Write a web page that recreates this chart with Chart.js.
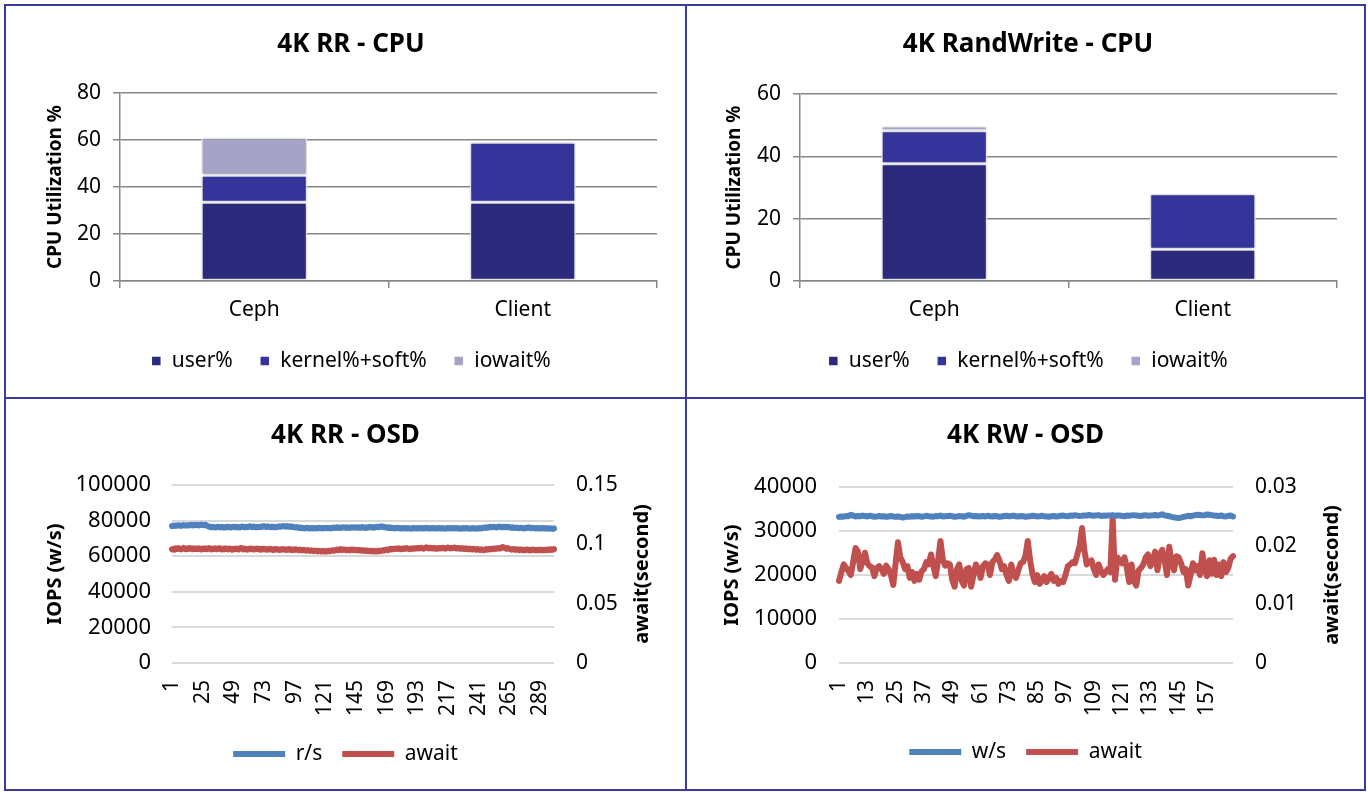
<!DOCTYPE html>
<html lang="en">
<head>
    <meta charset="UTF-8">
    <title>4K RR / RandWrite - CPU and OSD</title>
    <script src="https://cdn.jsdelivr.net/npm/chart.js"></script>
    <style>
        body { margin: 0; background: #fff; width: 1368px; height: 792px; position: relative; overflow: hidden; }
        #frame { position: absolute; left: 4px; top: 4px; width: 1362px; height: 787px; border: 2px solid #3b3b9e; box-sizing: border-box; }
        .vline { position: absolute; left: 685px; top: 4px; width: 2px; height: 787px; background: #3b3b9e; }
        .hline { position: absolute; left: 4px; top: 397px; width: 1362px; height: 2px; background: #3b3b9e; }
        canvas { position: absolute; }
    </style>
</head>
<body>
    <div id="frame"></div>
    <div class="vline"></div>
    <div class="hline"></div>

    <canvas id="rrCpu" width="679" height="391" style="left:6px;top:6px"></canvas>
    <canvas id="rwCpu" width="677" height="391" style="left:687px;top:6px"></canvas>
    <canvas id="rrOsd" width="679" height="390" style="left:6px;top:399px"></canvas>
    <canvas id="rwOsd" width="677" height="390" style="left:687px;top:399px"></canvas>

    <script>
    // ---- data ----
    const cpuCategories = ['Ceph', 'Client'];

    // 4K RR - CPU
    const rrUser = [33.5, 33.5];
    const rrKernel = [11.5, 25.5];
    const rrIowait = [16.0, 0];

    // 4K RandWrite - CPU
    const rwUser = [37.6, 10.2];
    const rwKernel = [10.6, 17.8];
    const rwIowait = [1.5, 0];

    // 4K RR - OSD, r/s (300 samples)
    const rrReads = [
        76900,77200,77000,77300,77100,77400,77200,77000,77300,77500,77200,77300,77400,77200,77500,77600,77300,77500,77400,77700,77500,77300,77600,77800,
        77500,77400,77700,77300,77000,76600,76400,76200,76500,76300,76100,76400,76600,76300,76200,76500,76300,76000,76400,76200,76600,76300,76100,76400,
        76500,76300,76600,76200,76400,76100,76500,76700,76400,76200,76500,76300,76600,76800,76500,76300,76700,76400,76200,76500,76300,76600,76400,76700,
        76900,76600,76400,76700,76500,76300,76600,76400,76200,76500,76300,76600,76800,76500,76700,77000,76800,76600,76900,76700,76500,76800,76400,76600,
        76300,76100,76400,76000,75800,76100,75700,75900,75600,75800,76000,75700,75500,75800,75600,75900,75700,75500,75800,76000,75700,75900,75600,75800,
        75900,75700,76000,75800,75600,75900,76100,75800,76000,76200,75900,76100,75800,76000,76300,76100,75900,76200,76000,75800,76100,76300,76000,76200,
        76000,76300,76100,75900,76200,76400,76100,75900,76200,76000,76300,76500,76200,76000,76300,76100,76400,76600,76300,76500,76800,76500,76200,76400,
        76100,75900,76200,75800,76000,75700,75900,75600,75800,76000,75700,75500,75800,75600,75900,75700,75500,75800,75600,75400,75700,75900,75600,75800,
        75500,75700,75900,75600,75800,75500,75700,76000,75700,75500,75800,75600,75900,75700,75500,75800,75600,75900,75700,75500,75800,75600,75400,75700,
        75900,75600,75800,75500,75700,75900,75600,75800,75500,75700,75400,75600,75800,75500,75700,75900,75600,75400,75700,75500,75800,75600,75400,75700,
        75500,75800,75600,75900,76100,75900,76200,76000,76300,76500,76200,76400,76600,76300,76100,76400,76700,76500,76200,76400,76600,76300,76500,76200,
        76400,76100,75900,76200,76000,75800,76100,75900,75700,76000,75800,75600,75900,75700,76000,76200,75900,75700,76000,75800,75600,75900,75700,75500,
        75800,75600,75900,75700,75500,75800,75600,75400,75700,75500,75300,75600
    ];

    // 4K RR - OSD, await in seconds (300 samples)
    const rrAwait = [
        0.0958,0.0962,0.0955,0.0966,0.0960,0.0968,0.0963,0.0957,0.0965,0.0970,0.0962,0.0958,0.0966,0.0961,0.0969,0.0964,0.0958,0.0966,0.0960,0.0965,0.0959,0.0967,0.0962,0.0956,
        0.0964,0.0960,0.0967,0.0958,0.0963,0.0969,0.0961,0.0957,0.0965,0.0960,0.0966,0.0958,0.0963,0.0968,0.0960,0.0956,0.0964,0.0959,0.0966,0.0961,0.0957,0.0965,0.0960,0.0955,
        0.0962,0.0958,0.0965,0.0960,0.0956,0.0964,0.0970,0.0962,0.0957,0.0965,0.0960,0.0955,0.0963,0.0958,0.0966,0.0961,0.0956,0.0963,0.0959,0.0965,0.0960,0.0955,0.0962,0.0957,
        0.0963,0.0958,0.0954,0.0961,0.0956,0.0962,0.0958,0.0953,0.0960,0.0955,0.0961,0.0957,0.0952,0.0959,0.0955,0.0961,0.0956,0.0952,0.0958,0.0954,0.0960,0.0955,0.0951,0.0957,
        0.0953,0.0959,0.0954,0.0950,0.0956,0.0952,0.0948,0.0954,0.0950,0.0946,0.0952,0.0948,0.0944,0.0950,0.0946,0.0942,0.0948,0.0944,0.0940,0.0946,0.0942,0.0939,0.0945,0.0941,
        0.0938,0.0944,0.0940,0.0946,0.0942,0.0948,0.0951,0.0946,0.0952,0.0956,0.0950,0.0955,0.0960,0.0953,0.0957,0.0952,0.0956,0.0950,0.0954,0.0949,0.0953,0.0957,0.0951,0.0955,
        0.0950,0.0954,0.0948,0.0952,0.0946,0.0950,0.0945,0.0949,0.0943,0.0947,0.0942,0.0946,0.0941,0.0945,0.0940,0.0944,0.0939,0.0943,0.0947,0.0942,0.0946,0.0951,0.0947,0.0953,
        0.0956,0.0951,0.0958,0.0962,0.0957,0.0963,0.0959,0.0965,0.0961,0.0967,0.0962,0.0958,0.0964,0.0960,0.0966,0.0962,0.0968,0.0963,0.0959,0.0965,0.0961,0.0967,0.0963,0.0969,
        0.0965,0.0970,0.0966,0.0972,0.0967,0.0963,0.0969,0.0975,0.0970,0.0966,0.0972,0.0968,0.0964,0.0970,0.0966,0.0962,0.0968,0.0964,0.0970,0.0966,0.0972,0.0967,0.0963,0.0969,
        0.0974,0.0969,0.0965,0.0971,0.0967,0.0973,0.0968,0.0964,0.0970,0.0966,0.0962,0.0968,0.0964,0.0960,0.0966,0.0962,0.0958,0.0964,0.0960,0.0956,0.0962,0.0958,0.0954,0.0960,
        0.0956,0.0952,0.0958,0.0954,0.0950,0.0956,0.0960,0.0955,0.0961,0.0957,0.0963,0.0959,0.0965,0.0961,0.0967,0.0963,0.0969,0.0965,0.0972,0.0978,0.0971,0.0966,0.0962,0.0968,
        0.0963,0.0959,0.0955,0.0961,0.0957,0.0953,0.0959,0.0955,0.0951,0.0957,0.0953,0.0949,0.0955,0.0951,0.0957,0.0953,0.0949,0.0955,0.0951,0.0956,0.0952,0.0948,0.0954,0.0950,
        0.0956,0.0952,0.0948,0.0954,0.0950,0.0955,0.0951,0.0957,0.0953,0.0958,0.0954,0.0959
    ];

    // 4K RW - OSD, w/s (168 samples)
    const rwWrites = [
        33200,33300,33250,33400,33350,33700,33500,33300,33400,33350,33500,33400,
        33300,33450,33350,33250,33300,33400,33300,33350,33200,33300,33400,33300,
        33250,33300,33200,33050,33150,33300,33250,33350,33300,33400,33350,33250,
        33300,33450,33350,33300,33250,33400,33350,33500,33300,33350,33400,33450,
        33350,33250,33300,33400,33350,33250,33450,33600,33500,33350,33400,33300,
        33350,33400,33300,33450,33350,33300,33400,33350,33250,33300,33400,33450,
        33350,33400,33500,33350,33300,33400,33350,33250,33300,33350,33450,33400,
        33300,33350,33450,33350,33300,33250,33350,33400,33300,33350,33450,33500,
        33400,33350,33500,33450,33600,33500,33400,33450,33550,33500,33650,33500,
        33450,33550,33600,33400,33500,33450,33550,33500,33600,33450,33500,33550,
        33400,33350,33500,33450,33550,33600,33500,33450,33400,33550,33600,33450,
        33500,33550,33650,33500,33600,33800,33550,33450,33350,33200,33100,33000,
        32950,33050,33200,33300,33450,33350,33500,33600,33700,33650,33550,33600,
        33750,33700,33600,33500,33450,33400,33550,33350,33300,33450,33500,33300
    ];

    // 4K RW - OSD, await in seconds (168 samples)
    const rwAwait = [
        0.0140,0.0155,0.0168,0.0162,0.0157,0.0150,0.0172,0.0196,0.0190,0.0160,0.0175,0.0188,
        0.0170,0.0165,0.0163,0.0148,0.0162,0.0165,0.0160,0.0152,0.0166,0.0160,0.0150,0.0133,
        0.0170,0.0206,0.0180,0.0172,0.0160,0.0165,0.0145,0.0155,0.0140,0.0152,0.0142,0.0156,
        0.0160,0.0172,0.0168,0.0185,0.0165,0.0148,0.0175,0.0208,0.0176,0.0166,0.0170,0.0168,
        0.0142,0.0130,0.0160,0.0168,0.0140,0.0132,0.0160,0.0162,0.0130,0.0150,0.0168,0.0160,
        0.0145,0.0165,0.0170,0.0168,0.0150,0.0172,0.0176,0.0184,0.0175,0.0160,0.0165,0.0150,
        0.0140,0.0168,0.0150,0.0145,0.0158,0.0170,0.0172,0.0182,0.0208,0.0175,0.0152,0.0138,
        0.0150,0.0135,0.0140,0.0148,0.0138,0.0145,0.0152,0.0140,0.0145,0.0135,0.0140,0.0138,
        0.0150,0.0165,0.0168,0.0172,0.0170,0.0185,0.0200,0.0230,0.0192,0.0168,0.0172,0.0175,
        0.0160,0.0150,0.0168,0.0158,0.0150,0.0155,0.0160,0.0155,0.0248,0.0142,0.0180,0.0175,
        0.0170,0.0180,0.0162,0.0138,0.0168,0.0140,0.0132,0.0158,0.0162,0.0168,0.0180,0.0185,
        0.0165,0.0175,0.0190,0.0158,0.0185,0.0193,0.0175,0.0150,0.0198,0.0170,0.0158,0.0182,
        0.0180,0.0170,0.0155,0.0160,0.0132,0.0150,0.0170,0.0158,0.0165,0.0150,0.0187,0.0160,
        0.0148,0.0175,0.0152,0.0176,0.0150,0.0168,0.0148,0.0172,0.0155,0.0162,0.0178,0.0182
    ];

    // sample numbers on the x axis
    const rrSamples = rrReads.map((_, i) => String(i + 1));
    const rwSamples = rwWrites.map((_, i) => String(i + 1));

    // ---- common look ----
    Chart.defaults.font.family = '"Noto Sans", "Open Sans", sans-serif';
    Chart.defaults.font.size = 21;
    Chart.defaults.color = '#000';

    const USER_COLOR = '#2b2a7c';
    const KERNEL_COLOR = '#35349b';
    const IOWAIT_COLOR = '#a5a4c8';
    const BLUE = '#4f81bd';
    const RED = '#c0504d';

    // right axis title, drawn bottom-to-top like the left one
    const rightTitlePlugin = {
        id: 'rightTitle',
        afterDraw(chart, args, opts) {
            if (!opts || !opts.text) return;
            const ctx = chart.ctx;
            const area = chart.chartArea;
            ctx.save();
            ctx.translate(opts.x, (area.top + area.bottom) / 2);
            ctx.rotate(-Math.PI / 2);
            ctx.font = 'bold 20px "Noto Sans", "Open Sans", sans-serif';
            ctx.fillStyle = '#000';
            ctx.textAlign = 'center';
            ctx.textBaseline = 'middle';
            ctx.fillText(opts.text, 0, 0);
            ctx.restore();
        }
    };

    // soft grey halo round the columns, like the Excel original
    const barShadowPlugin = {
        id: 'barShadow',
        beforeDatasetsDraw(chart) {
            const ctx = chart.ctx;
            ctx.save();
            ctx.shadowColor = 'rgba(0,0,0,0.28)';
            ctx.shadowBlur = 4;
        },
        afterDatasetsDraw(chart) {
            chart.ctx.restore();
        }
    };

    function cpuChart(id, title, user, kernel, iowait, max, step, lay) {
        const bar = (label, data, color) => ({
            label: label,
            data: data,
            backgroundColor: color,
            borderColor: '#ffffff',
            borderWidth: 1.5,
            borderSkipped: false,
            categoryPercentage: 0.395,
            barPercentage: 1
        });
        return new Chart(document.getElementById(id), {
            type: 'bar',
            data: {
                labels: cpuCategories,
                datasets: [
                    bar('user%', user, USER_COLOR),
                    bar('kernel%+soft%', kernel, KERNEL_COLOR),
                    bar('iowait%', iowait, IOWAIT_COLOR)
                ]
            },
            options: {
                responsive: false,
                animation: false,
                // left padding moves title/legend centre over, axis width takes it back
                layout: { padding: { left: lay.padLeft, right: lay.right, top: 0, bottom: 15.5 } },
                plugins: {
                    title: {
                        display: true,
                        text: title,
                        font: { size: 26, weight: 'bold' },
                        padding: { top: lay.titleTop, bottom: lay.titleBottom }
                    },
                    legend: {
                        position: 'bottom',
                        labels: { boxWidth: 10, boxHeight: 10, padding: 27, font: { size: 21 } }
                    },
                    tooltip: { enabled: false }
                },
                scales: {
                    x: {
                        stacked: true,
                        grid: { drawOnChartArea: false, drawTicks: true, tickLength: 7, color: '#868686', lineWidth: 1.5 },
                        border: { color: '#868686', width: 1.5 },
                        ticks: { padding: 9 },
                        afterFit(s) { s.height = 42.5; }
                    },
                    y: {
                        stacked: true,
                        min: 0,
                        max: max,
                        ticks: { stepSize: step, padding: lay.tickPad },
                        grid: { color: '#868686', lineWidth: 1.5, tickLength: 7 },
                        border: { color: '#868686', width: 1.5 },
                        title: {
                            display: true,
                            text: 'CPU Utilization %',
                            font: { size: 19, weight: 'bold' },
                            padding: { top: lay.axisTitle, bottom: 0 }
                        },
                        afterFit(s) { s.width = lay.left - lay.padLeft; }
                    }
                }
            },
            plugins: [barShadowPlugin]
        });
    }

    function osdChart(id, title, labels, iops, iopsName, wait, lay) {
        const line = (label, data, color, axis) => ({
            label: label,
            data: data,
            borderColor: color,
            backgroundColor: color,
            borderWidth: 6,
            borderCapStyle: 'round',
            borderJoinStyle: 'round',
            pointRadius: 0,
            tension: 0,
            yAxisID: axis
        });
        return new Chart(document.getElementById(id), {
            type: 'line',
            data: {
                labels: labels,
                datasets: [
                    line(iopsName, iops, BLUE, 'y'),
                    line('await', wait, RED, 'y1')
                ]
            },
            options: {
                responsive: false,
                animation: false,
                layout: { padding: { left: 0, right: 0, top: 0, bottom: lay.bottom } },
                plugins: {
                    title: {
                        display: true,
                        text: title,
                        font: { size: 26, weight: 'bold' },
                        padding: { top: lay.titleTop, bottom: lay.titleBottom }
                    },
                    legend: {
                        position: 'bottom',
                        labels: {
                            usePointStyle: true,
                            pointStyle: 'line',
                            pointStyleWidth: 52,
                            padding: 20,
                            font: { size: 21 }
                        }
                    },
                    tooltip: { enabled: false },
                    rightTitle: { text: 'await(second)', x: lay.rightTitleX }
                },
                scales: {
                    x: {
                        grid: { display: false, drawTicks: false },
                        border: { display: false },
                        ticks: {
                            autoSkip: false,
                            minRotation: 90,
                            maxRotation: 90,
                            padding: 17,
                            font: { size: 21 },
                            callback: function (v, i) {
                                return i % lay.every === 0 ? this.getLabelForValue(v) : '';
                            }
                        },
                        afterFit(s) { s.height = lay.xHeight; }
                    },
                    y: {
                        position: 'left',
                        min: 0,
                        max: lay.iopsMax,
                        ticks: { stepSize: lay.iopsStep, padding: lay.leftPad, font: { size: 22 }, callback: v => String(v) },
                        grid: { color: '#d9d9d9', lineWidth: 2, drawTicks: false },
                        border: { display: false },
                        title: {
                            display: true,
                            text: 'IOPS (w/s)',
                            font: { size: 20, weight: 'bold' },
                            padding: { top: lay.axisTitle, bottom: 0 }
                        },
                        afterFit(s) { s.width = lay.left; }
                    },
                    y1: {
                        position: 'right',
                        min: 0,
                        max: lay.waitMax,
                        ticks: { stepSize: lay.waitStep, padding: 22, callback: v => String(Number(v.toFixed(4))) },
                        grid: { drawOnChartArea: false, drawTicks: false },
                        border: { display: false },
                        afterFit(s) { s.width = lay.right; }
                    }
                }
            },
            plugins: [rightTitlePlugin]
        });
    }

    cpuChart('rrCpu', '4K RR - CPU', rrUser, rrKernel, rrIowait, 80, 20,
        { padLeft: 39, left: 114, right: 28, titleTop: 22.9, titleBottom: 32.9, tickPad: 12, axisTitle: -1 });
    cpuChart('rwCpu', '4K RandWrite - CPU', rwUser, rwKernel, rwIowait, 60, 20,
        { padLeft: 32, left: 113, right: 27, titleTop: 23.4, titleBottom: 33.4, tickPad: 12, axisTitle: 4 });

    osdChart('rrOsd', '4K RR - OSD', rrSamples, rrReads, 'r/s', rrAwait,
        { left: 166, right: 131, leftPad: 21, axisTitle: 37, titleTop: 21.4, titleBottom: 33.4,
          xHeight: 60.5, bottom: 14.5, every: 24, iopsMax: 100000, iopsStep: 20000,
          waitMax: 0.15, waitStep: 0.05, rightTitleX: 636 });
    osdChart('rwOsd', '4K RW - OSD', rwSamples, rwWrites, 'w/s', rwAwait,
        { left: 152, right: 131, leftPad: 22, axisTitle: 33, titleTop: 21.4, titleBottom: 35.4,
          xHeight: 58.5, bottom: 16.5, every: 12, iopsMax: 40000, iopsStep: 10000,
          waitMax: 0.03, waitStep: 0.01, rightTitleX: 645 });
    </script>
</body>
</html>
